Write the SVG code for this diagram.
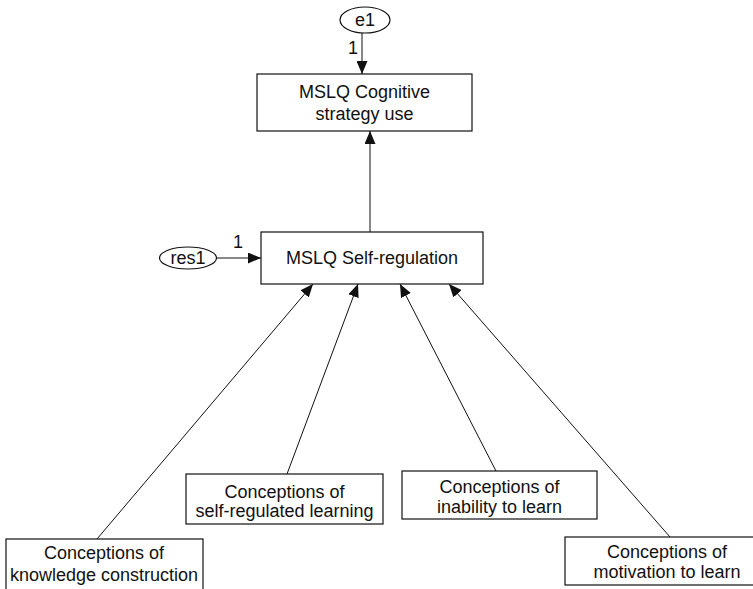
<svg xmlns="http://www.w3.org/2000/svg" width="753" height="589" viewBox="0 0 753 589">
<style>
text{font-family:"Liberation Sans",Arial,sans-serif;font-size:18px;fill:#111;text-anchor:middle}
.box{fill:#fff;stroke:#111;stroke-width:1.2}
.edge{stroke:#111;stroke-width:1;fill:none;marker-end:url(#ah)}
</style>
<defs>
<marker id="ah" markerWidth="13" markerHeight="11" refX="13" refY="5.5" orient="auto" markerUnits="userSpaceOnUse">
<path d="M0,0 L13,5.5 L0,11 z" fill="#111"/>
</marker>
</defs>
<rect width="753" height="589" fill="#fff"/>
<g id="connectors">
<line class="edge" x1="362" y1="33" x2="362" y2="74"/>
<line class="edge" x1="370" y1="232" x2="370" y2="131"/>
<line class="edge" x1="217" y1="258" x2="261" y2="258"/>
<line class="edge" x1="97" y1="539" x2="313" y2="284"/>
<line class="edge" x1="287" y1="474" x2="358" y2="284"/>
<line class="edge" x1="496" y1="471" x2="400" y2="284"/>
<line class="edge" x1="670" y1="537" x2="449" y2="284"/>
<text x="353" y="54">1</text>
<text x="238" y="248">1</text>
</g>
<g id="e1">
<ellipse class="box" cx="365" cy="20" rx="25" ry="13"/>
<text x="365" y="26">e1</text>
</g>
<g id="cognitive">
<rect class="box" x="257" y="74" width="215" height="57"/>
<text x="364.5" y="98">MSLQ Cognitive</text>
<text x="364.5" y="120">strategy use</text>
</g>
<g id="res1">
<ellipse class="box" cx="188" cy="258" rx="28.5" ry="11"/>
<text x="188" y="264">res1</text>
</g>
<g id="selfregulation">
<rect class="box" x="261" y="232" width="222" height="52"/>
<text x="372" y="264">MSLQ Self-regulation</text>
</g>
<g id="knowledge">
<rect class="box" x="6" y="539" width="197" height="60"/>
<text x="104" y="559">Conceptions of</text>
<text x="104" y="581">knowledge construction</text>
</g>
<g id="selfregulated">
<rect class="box" x="186" y="474" width="197" height="50"/>
<text x="284.5" y="498">Conceptions of</text>
<text x="284.5" y="517">self-regulated learning</text>
</g>
<g id="inability">
<rect class="box" x="402" y="471" width="195" height="48"/>
<text x="499.5" y="493">Conceptions of</text>
<text x="499.5" y="513">inability to learn</text>
</g>
<g id="motivation">
<rect class="box" x="565" y="537" width="204" height="48"/>
<text x="667" y="558">Conceptions of</text>
<text x="667" y="578">motivation to learn</text>
</g>
</svg>
